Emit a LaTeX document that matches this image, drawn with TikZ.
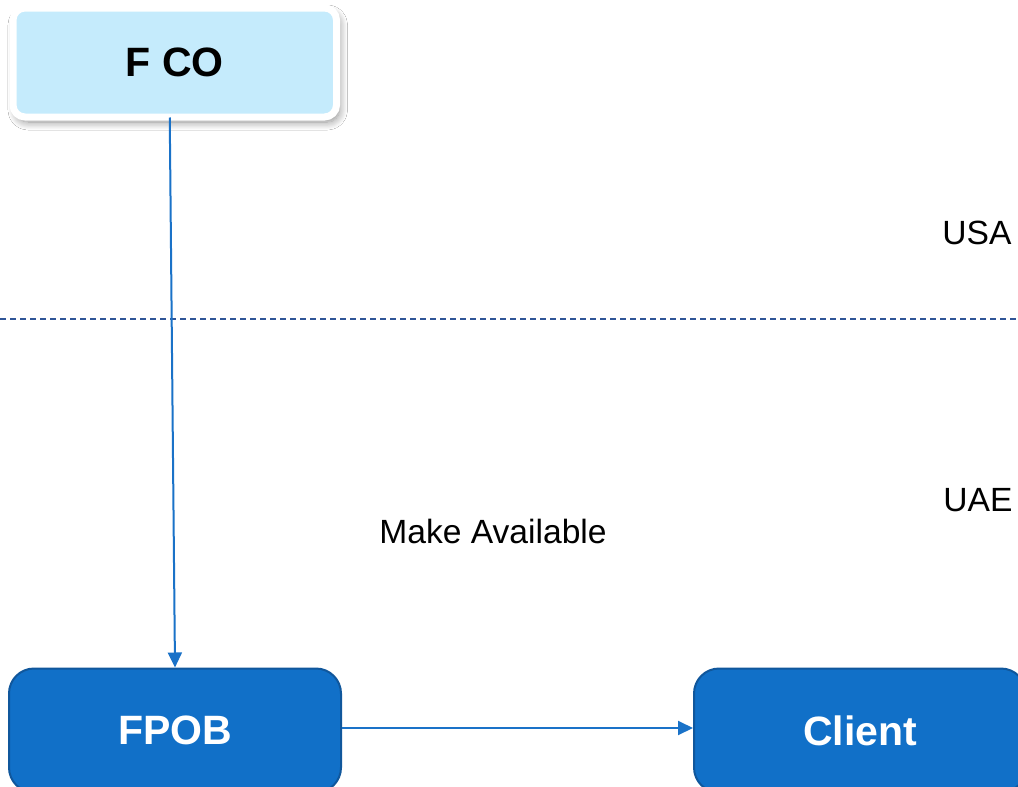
\documentclass[tikz,border=0pt]{standalone}
\usepackage{fontspec}
\setmainfont{Liberation Sans}
\usetikzlibrary{arrows.meta,shadows.blur}
\definecolor{paleblue}{HTML}{C5EBFC}
\definecolor{boxblue}{HTML}{1170C8}
\definecolor{boxedge}{HTML}{10579C}
\definecolor{linkblue}{HTML}{1A72C8}
\definecolor{borderdash}{HTML}{2F5597}
\tikzset{
  x=0.5pt, y=-0.5pt,
  topbox/.style={rounded corners=6pt, fill=paleblue, draw=white, line width=3.5pt,
    minimum width=161.75pt, minimum height=54.5pt, inner sep=0pt,
    font=\fontsize{20.5}{24}\selectfont\bfseries, text=black,
    blur shadow={shadow xshift=1.5pt, shadow yshift=-2.5pt, shadow blur radius=4pt,
      shadow blur steps=10, shadow opacity=45}},
  bluebox/.style={rounded corners=12.5pt, fill=boxblue, draw=boxedge, line width=1pt,
    minimum width=166pt, minimum height=62pt, inner sep=0pt,
    font=\fontsize{20.5}{24}\selectfont\bfseries, text=white},
  plain/.style={font=\fontsize{16.8}{20}\selectfont, text=black, inner sep=0pt},
  link/.style={draw=linkblue, line width=1pt, -{Triangle[length=7.5pt,width=7pt]}},
  region/.style={draw=borderdash, line width=0.6pt, dash pattern=on 3pt off 2pt}
}
\begin{document}
\begin{tikzpicture}
\useasboundingbox (0,0) rectangle (1018,787);
\clip (0,0) rectangle (1018,787);
\fill[white] (0,0) rectangle (1018,787);

% border between the two regions
\coordinate (lineW) at (0,319);
\coordinate (lineE) at (1018,319);
\draw[region] (lineW) -- (lineE);

% region labels
\node[plain] (usa) at (977,233) {USA};
\node[plain] (uae) at (978,500) {UAE};
\node[plain] (make) at (493,531) {Make Available};

% parties
\node[topbox] (fco) at (174.75,62.5) {F CO};
\node[bluebox] (fpob) at (175,730.5) {FPOB};
\node[bluebox] (client) at (860,730.5) {Client};

% flows
\draw[link] ([xshift=-2.5pt,yshift=1.5pt]fco.south) -- (fpob.north);
\draw[link] (fpob.east |- 0,728) -- (client.west |- 0,728);
\end{tikzpicture}
\end{document}
